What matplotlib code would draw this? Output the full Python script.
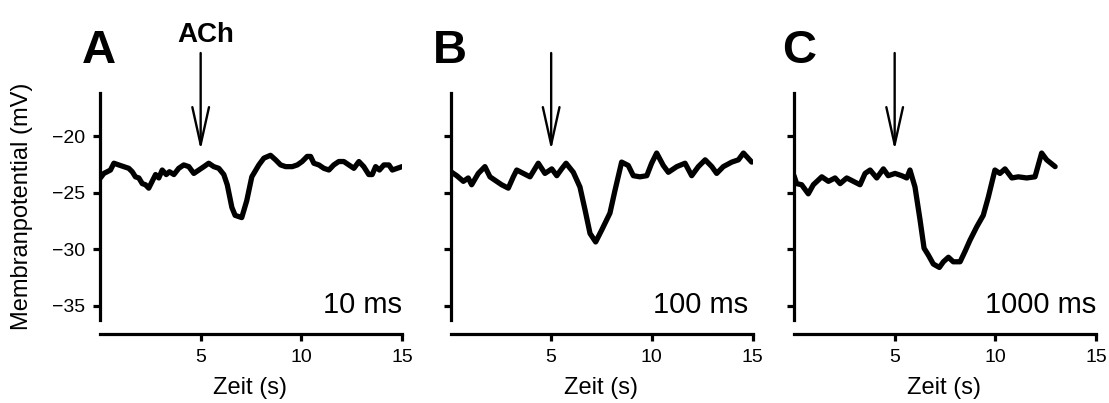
import matplotlib
matplotlib.use("Agg")
import matplotlib.pyplot as plt

plt.rcParams['font.family'] = ['Liberation Sans', 'DejaVu Sans']

# traces (time in s, potential in mV)
t_a = [0.02, 0.19, 0.36, 0.52, 0.69, 0.93, 1.18, 1.43, 1.6, 1.76, 1.93, 2.1, 2.26,
       2.42, 2.59, 2.76, 2.92, 3.09, 3.29, 3.45, 3.67, 3.91, 4.16, 4.41, 4.66, 4.91,
       5.16, 5.4, 5.65, 5.9, 6.15, 6.32, 6.55, 6.71, 7.04, 7.29, 7.54, 7.89, 8.14,
       8.47, 8.72, 8.97, 9.22, 9.55, 9.8, 10.04, 10.29, 10.46, 10.62, 10.87, 11.12,
       11.37, 11.61, 11.86, 12.11, 12.36, 12.61, 12.86, 13.1, 13.35, 13.52, 13.69,
       13.88, 14.1, 14.35, 14.52, 14.76, 15.0]
v_a = [-23.7, -23.3, -23.15, -23.0, -22.4, -22.55, -22.7, -22.85, -23.15, -23.6,
       -23.7, -24.2, -24.3, -24.6, -24.0, -23.4, -23.7, -23.0, -23.4, -23.15, -23.4,
       -22.85, -22.55, -22.7, -23.3, -23.0, -22.7, -22.4, -22.7, -22.85, -23.4,
       -24.3, -26.3, -27.0, -27.2, -25.7, -23.6, -22.55, -21.95, -21.7, -22.1,
       -22.55, -22.7, -22.7, -22.55, -22.25, -21.8, -21.8, -22.4, -22.55, -22.85,
       -23.0, -22.55, -22.25, -22.25, -22.55, -22.85, -22.25, -22.7, -23.4, -23.4,
       -22.7, -23.0, -22.55, -22.55, -23.0, -22.85, -22.7]

t_b = [0.0, 0.06, 0.31, 0.64, 0.88, 1.05, 1.38, 1.71, 1.96, 2.29, 2.54, 2.87, 3.12,
       3.29, 3.62, 3.95, 4.36, 4.69, 5.03, 5.28, 5.52, 5.74, 6.1, 6.43, 6.68, 6.93,
       7.21, 7.51, 7.92, 8.17, 8.5, 8.83, 9.08, 9.41, 9.75, 9.99, 10.24, 10.57,
       10.82, 11.24, 11.65, 11.98, 12.31, 12.65, 12.98, 13.22, 13.55, 13.97, 14.3,
       14.55, 14.96]
v_b = [-23.1, -23.2, -23.5, -24.0, -23.7, -24.3, -23.3, -22.7, -23.6, -24.0, -24.3,
       -24.6, -23.6, -23.0, -23.3, -23.6, -22.4, -23.3, -22.9, -23.5, -22.9, -22.4,
       -23.2, -24.5, -26.5, -28.6, -29.35, -28.3, -26.8, -24.8, -22.3, -22.6, -23.5,
       -23.6, -23.5, -22.4, -21.5, -22.6, -23.2, -22.7, -22.4, -23.5, -22.7, -22.1,
       -22.7, -23.3, -22.7, -22.3, -22.1, -21.5, -22.3]

t_c = [0.0, 0.13, 0.38, 0.71, 0.96, 1.38, 1.71, 2.04, 2.29, 2.62, 2.95, 3.28, 3.53,
       3.78, 4.11, 4.44, 4.68, 5.02, 5.35, 5.6, 5.76, 6.01, 6.26, 6.46, 6.67, 6.92,
       7.22, 7.42, 7.67, 7.91, 8.25, 8.49, 8.74, 9.08, 9.4, 9.65, 9.98, 10.23,
       10.48, 10.82, 11.14, 11.56, 11.97, 12.3, 12.55, 12.97]
v_c = [-23.5, -24.2, -24.3, -25.1, -24.3, -23.6, -24.0, -23.7, -24.2, -23.7, -24.0,
       -24.3, -23.3, -23.0, -23.7, -22.9, -23.5, -23.3, -23.5, -23.7, -23.0, -24.5,
       -27.4, -29.9, -30.5, -31.3, -31.6, -31.1, -30.7, -31.1, -31.1, -30.2, -29.2,
       -28.0, -27.0, -25.4, -23.0, -23.3, -22.9, -23.7, -23.6, -23.7, -23.6, -21.5,
       -22.1, -22.7]

traces = [(t_a, v_a), (t_b, v_b), (t_c, v_c)]
panel_letters = ['A', 'B', 'C']
durations = ['10 ms', '100 ms', '1000 ms']
x_ticks = [5, 10, 15]
y_ticks = [-35, -30, -25, -20]
ach_time = 5
arrow_top, arrow_tip = -12.67, -21.24

fig = plt.figure(figsize=(11.09, 4.03), dpi=100)
lefts = [100 / 1109, 450.5 / 1109, 794 / 1109]
letter_x = [82 / 1109, 433 / 1109, 782 / 1109]

for i, (t, v) in enumerate(traces):
    ax = fig.add_axes([lefts[i], 83 / 403, 302 / 1109, 227 / 403])
    ax.plot(t, v, color='black', lw=3.8, solid_joinstyle='round',
            solid_capstyle='round')
    ax.set_xlim(0, 15)
    ax.set_ylim(-36.24, -16.2)
    for s in ['top', 'right']:
        ax.spines[s].set_visible(False)
    for s in ['left', 'bottom']:
        ax.spines[s].set_linewidth(2.3)
    ax.spines['bottom'].set_position(('outward', 10))
    ax.set_xticks(x_ticks)
    ax.set_yticks(y_ticks)
    ax.tick_params(width=2.3, length=5, labelsize=14)
    ax.tick_params(axis='x', pad=6)
    ax.tick_params(axis='y', pad=6)
    ax.set_xlabel('Zeit (s)', fontsize=17)
    ax.xaxis.set_label_coords(0.497, -0.25)
    if i == 0:
        ax.set_ylabel('Membranpotential (mV)', fontsize=17)
        ax.yaxis.set_label_coords(-0.222, 0.5)
    else:
        ax.set_yticklabels([])
    ax.text(1.0 if i != 1 else 0.985, 0.031, durations[i], transform=ax.transAxes,
            ha='right', va='baseline', fontsize=21)
    ax.annotate('', xy=(ach_time, arrow_tip), xytext=(ach_time, arrow_top),
                annotation_clip=False,
                arrowprops=dict(arrowstyle='->,head_length=2.7,head_width=0.6',
                                lw=1.7, color='black', shrinkA=0, shrinkB=0,
                                mutation_scale=10))
    fig.text(letter_x[i], 1 - 63 / 403, panel_letters[i], ha='left', va='baseline',
             fontsize=34, fontweight='bold')

fig.text(206 / 1109, 1 - 42 / 403, 'ACh', ha='center', va='baseline',
         fontsize=20, fontweight='bold')

fig.savefig('out.png', dpi=100)
